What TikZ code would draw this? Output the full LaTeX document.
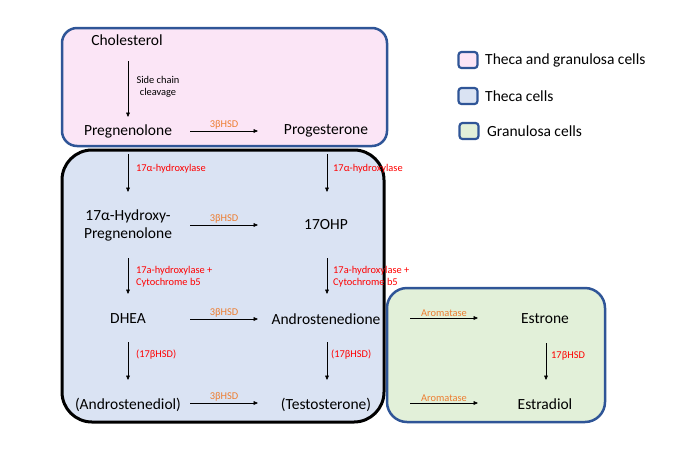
\documentclass[tikz,border=0pt]{standalone}
\usepackage{fontspec}
\setmainfont{Carlito}
\usetikzlibrary{calc,arrows.meta}
\definecolor{pinkfill}{RGB}{251,229,246}
\definecolor{bluefill}{RGB}{218,227,243}
\definecolor{greenfill}{RGB}{226,240,217}
\definecolor{boxblue}{RGB}{47,85,151}
\definecolor{enzorange}{RGB}{237,125,49}
\definecolor{enzred}{RGB}{255,0,0}
\tikzset{
  cmpd/.style={font=\fontsize{15.5}{18}\selectfont, inner sep=0pt, align=center},
  enz/.style={font=\fontsize{10.4}{12.5}\selectfont, inner sep=0pt, align=left},
  hlab/.style={enz, text=enzorange, midway, anchor=south, inner sep=1pt},
  vlab/.style={enz, text=enzred, anchor=west},
  arr/.style={line width=0.7pt, -{Triangle[length=4.5pt,width=3.8pt]}},
  cellbox/.style={line width=2.5pt, draw=boxblue},
  swatch/.style={draw=boxblue, line width=2.2pt, rounded corners=3pt, minimum width=19pt, minimum height=16pt, inner sep=0pt},
  legtext/.style={font=\fontsize{15.5}{18}\selectfont, anchor=west, inner sep=0pt}
}
\begin{document}
\begin{tikzpicture}[x=1pt, y=-1pt]
\useasboundingbox (0,0) rectangle (698,456);
% cell compartments
\draw[cellbox, fill=pinkfill, rounded corners=15pt] (62,28) rectangle (387,146);
\draw[line width=3pt, draw=black, fill=bluefill, rounded corners=30pt] (62,150) rectangle (384,422);
\draw[cellbox, fill=greenfill, rounded corners=20pt] (387,288) rectangle (605,422);

% compounds
\node[cmpd] (chol) at (127,40) {Cholesterol};
\node[cmpd] (preg) at (128,131) {Pregnenolone};
\node[cmpd] (prog) at (326,131) {Progesterone};
\node[cmpd] (hpreg) at (128,225) {17α-Hydroxy-\\Pregnenolone};
\node[cmpd] (ohp) at (326,225) {17OHP};
\node[cmpd] (dhea) at (128,319) {DHEA};
\node[cmpd] (andro) at (326,319) {Androstenedione};
\node[cmpd] (andiol) at (128,405) {(Androstenediol)};
\node[cmpd] (testo) at (326,405) {(Testosterone)};
\node[cmpd] (estrone) at (545,319) {Estrone};
\node[cmpd] (estradiol) at (545,404) {Estradiol};

% vertical arrows
\draw[arr] ($(chol)+(1,21)$) -- ($(preg)+(0,-14)$);
\draw[arr] ($(preg)+(0,23)$) -- ($(hpreg)+(0,-33)$);
\draw[arr] ($(prog)+(1,23)$) -- ($(ohp)+(1,-33)$);
\draw[arr] ($(hpreg)+(0,33)$) -- ($(dhea)+(0,-25)$);
\draw[arr] ($(ohp)+(1,33)$) -- ($(andro)+(1,-25)$);
\draw[arr] ($(dhea)+(0,23)$) -- ($(andiol)+(0,-25)$);
\draw[arr] ($(andro)+(1,23)$) -- ($(testo)+(1,-25)$);
\draw[arr] ($(estrone)+(1,24)$) -- ($(estradiol)+(1,-24)$);

% vertical labels
\node[enz, align=center] (scc) at (158,87) {Side chain\\cleavage};
\node[vlab] (h1) at (136,169) {17α-hydroxylase};
\node[vlab] (h2) at (333,169) {17α-hydroxylase};
\node[vlab] (c1) at (136,276.5) {17a-hydroxylase +\\Cytochrome b5};
\node[vlab] (c2) at (333,276.5) {17a-hydroxylase +\\Cytochrome b5};
\node[vlab] (b1) at (136,355) {(17βHSD)};
\node[vlab] (b2) at (331,355) {(17βHSD)};
\node[vlab] (b3) at (551,356) {17βHSD};

% horizontal arrows
\draw[arr] ($(preg)+(62,0)$) -- node[hlab] {3βHSD} ($(prog)+(-68,0)$);
\draw[arr] ($(hpreg)+(62,0)$) -- node[hlab] {3βHSD} ($(ohp)+(-68,0)$);
\draw[arr] ($(dhea)+(62,0)$) -- node[hlab] {3βHSD} ($(andro)+(-68,0)$);
\draw[arr] ($(andiol)+(62,-2)$) -- node[hlab] {3βHSD} ($(testo)+(-68,-2)$);
\draw[arr] ($(andro)+(84,-1)$) -- node[hlab] {Aromatase} ($(estrone)+(-67,-1)$);
\draw[arr] ($(testo)+(84,-2)$) -- node[hlab] {Aromatase} ($(estradiol)+(-67,-1)$);

% legend
\node[swatch, fill=pinkfill] (s1) at (468,60) {};
\node[swatch, fill=bluefill] (s2) at (468,96) {};
\node[swatch, fill=greenfill] (s3) at (469,131) {};
\node[legtext] (l1) at (485,60) {Theca and granulosa cells};
\node[legtext] (l2) at (485,96) {Theca cells};
\node[legtext] (l3) at (487,131) {Granulosa cells};
\end{tikzpicture}
\end{document}
